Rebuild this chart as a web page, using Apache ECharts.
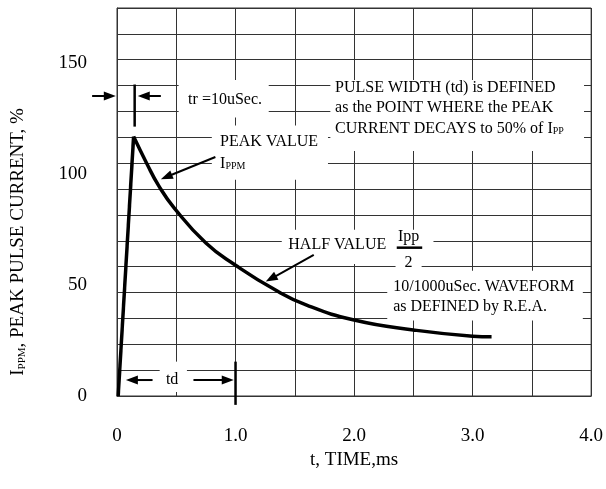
<!DOCTYPE html>
<html><head><meta charset="utf-8">
<script src="https://cdn.jsdelivr.net/npm/echarts@6/dist/echarts.min.js"></script>
<style>html,body{margin:0;padding:0;background:#fff}#c{width:606px;height:489px}</style>
</head><body><div id="c"></div>
<script>
// ---- data ----
const riseT = [0.01, 0.14];
const riseV = [0, 117];
const decayT = [0.14, 0.25, 0.35, 0.48, 0.75, 1.0, 1.33, 1.6, 2.0, 2.5, 3.0, 3.16];
const decayV = [117, 105, 95, 85, 69, 59, 48, 41, 34.3, 29.8, 27, 26.7];
const xTickLabels = ['0', '1.0', '2.0', '3.0', '4.0'];
const yTickLabels = [0, 50, 100, 150];

const FONT = '"Liberation Serif", "Times New Roman", serif';
const chart = echarts.init(document.getElementById('c'));

chart.setOption({
  animation: false,
  backgroundColor: '#fff',
  grid: { left: 117, right: 7, top: 8, bottom: 93, show: true, borderColor: '#333', borderWidth: 1 },
  xAxis: {
    type: 'value', min: 0, max: 4, interval: 0.5,
    name: 't, TIME,ms', nameLocation: 'middle', nameGap: 55,
    nameTextStyle: { fontFamily: FONT, fontSize: 19, color: '#000' },
    axisLine: { show: true, lineStyle: { color: '#333', width: 1 } },
    axisTick: { show: false },
    axisLabel: {
      margin: 31, fontFamily: FONT, fontSize: 19, color: '#000',
      formatter: v => (Math.abs(v - Math.round(v)) < 1e-9 ? xTickLabels[Math.round(v)] : '')
    },
    splitLine: { show: true, lineStyle: { color: '#333', width: 1 } }
  },
  yAxis: [
    {
      type: 'value', min: 0, max: 175, interval: 50,
      axisLine: { show: true, lineStyle: { color: '#333', width: 1 } },
      axisTick: { show: false },
      axisLabel: {
        margin: 30, fontFamily: FONT, fontSize: 19, color: '#000',
        formatter: v => (yTickLabels.indexOf(v) >= 0 ? String(v) : ''),
        showMaxLabel: false
      },
      splitLine: { show: false }
    },
    {
      type: 'value', min: 0, max: 15, interval: 1, position: 'left',
      axisLine: { show: false }, axisTick: { show: false }, axisLabel: { show: false },
      splitLine: { show: true, lineStyle: { color: '#333', width: 1 } }
    }
  ],
  series: [
    { type: 'line', z: 10, symbol: 'none', data: riseT.map((t, i) => [t, riseV[i]]),
      lineStyle: { color: '#000', width: 3.5 } },
    { type: 'line', z: 10, symbol: 'none', smooth: true, data: decayT.map((t, i) => [t, decayV[i]]),
      lineStyle: { color: '#000', width: 3.5 } }
  ]
});

// ---- annotations (positioned in data coordinates) ----
const P = (t, v) => chart.convertToPixel({ xAxisIndex: 0, yAxisIndex: 0 }, [t, v]);
const els = [];
function box(t1, v1, t2, v2) {
  const a = P(t1, v1), b = P(t2, v2);
  els.push({ type: 'rect', z: 3, shape: { x: Math.min(a[0], b[0]), y: Math.min(a[1], b[1]),
    width: Math.abs(b[0] - a[0]), height: Math.abs(b[1] - a[1]) }, style: { fill: '#fff' } });
}
function seg(t1, v1, t2, v2, w) {
  const a = P(t1, v1), b = P(t2, v2);
  els.push({ type: 'line', z: 20, shape: { x1: a[0], y1: a[1], x2: b[0], y2: b[1] },
    style: { stroke: '#000', lineWidth: w || 2 } });
}
function arrow(t1, v1, t2, v2) {
  const a = P(t1, v1), b = P(t2, v2);
  const ang = Math.atan2(b[1] - a[1], b[0] - a[0]);
  const L = 12, W = 4.5, c = Math.cos(ang), s = Math.sin(ang);
  const p1 = [b[0] - L * c + W * s, b[1] - L * s - W * c];
  const p2 = [b[0] - L * c - W * s, b[1] - L * s + W * c];
  els.push({ type: 'line', z: 20, shape: { x1: a[0], y1: a[1], x2: b[0] - L * 0.7 * c, y2: b[1] - L * 0.7 * s },
    style: { stroke: '#000', lineWidth: 2 } });
  els.push({ type: 'polygon', z: 20, shape: { points: [b, p1, p2] }, style: { fill: '#000' } });
}
const rich = {
  a: { fontFamily: FONT, fontSize: 16, lineHeight: 18, fill: '#000', verticalAlign: 'bottom' },
  s: { fontFamily: FONT, fontSize: 10, lineHeight: 10, fill: '#000', verticalAlign: 'bottom', padding: [0, 0, 0, 0] }
};
function txt(t, v, text, align, size) {
  const p = P(t, v);
  els.push({ type: 'text', z: 25, x: p[0], y: p[1],
    style: { text: text, fontFamily: FONT, fontSize: size || 16, fill: '#000',
      align: align || 'left', verticalAlign: 'middle', rich: rich } });
}

// white boxes
box(0.52, 142.5, 1.28, 125.6);     // tr
box(1.80, 142.5, 3.94, 110.5);     // pulse width
box(0.80, 122.0, 1.78, 97.5);      // peak value
box(1.39, 75.0, 2.67, 59.5);       // half value
box(2.35, 63.0, 2.57, 56.0);       // "2"
box(2.28, 56.5, 3.93, 34.0);       // waveform
box(0.36, 15.5, 0.59, 1.8);        // td

// tr markers
arrow(-0.21, 135.3, -0.01, 135.3);
seg(0.149, 140.5, 0.149, 121.5, 2.5);
arrow(0.37, 135.3, 0.175, 135.3);
txt(0.60, 133.6, 'tr =10uSec.');

// pulse width text
txt(1.84, 139.0, 'PULSE WIDTH (td) is DEFINED');
txt(1.84, 130.0, 'as the POINT WHERE the PEAK');
txt(1.84, 121.0, '{a|CURRENT DECAYS to 50% of I}{s|PP}');

// peak value
txt(0.87, 114.6, 'PEAK VALUE');
txt(0.87, 105.3, '{a|I}{s|PPM}');
arrow(0.83, 107.8, 0.37, 97.8);

// half value
txt(1.445, 68.2, 'HALF VALUE');
txt(2.46, 71.8, 'Ipp', 'center');
seg(2.36, 66.9, 2.575, 66.9, 2.5);
txt(2.46, 60.2, '2', 'center');
arrow(1.66, 63.6, 1.255, 51.6);

// waveform
txt(2.33, 49.3, '10/1000uSec. WAVEFORM');
txt(2.33, 40.2, 'as DEFINED by R.E.A.');

// td
arrow(0.30, 7.2, 0.075, 7.2);
txt(0.465, 7.4, 'td', 'center');
arrow(0.645, 7.2, 0.985, 7.2);
seg(1.0, 15.5, 1.0, -4.0, 2.5);

// y axis title (rotated)
els.push({ type: 'text', z: 25, x: 17, y: 242, rotation: Math.PI / 2,
  style: { text: '{b|I}{t|PPM}{b|, PEAK PULSE CURRENT, %}', align: 'center', verticalAlign: 'middle',
    rich: {
      b: { fontFamily: FONT, fontSize: 19, lineHeight: 22, fill: '#000', verticalAlign: 'bottom' },
      t: { fontFamily: FONT, fontSize: 11, lineHeight: 12, fill: '#000', verticalAlign: 'bottom' }
    } } });

chart.setOption({ graphic: { elements: els } });
</script></body></html>
